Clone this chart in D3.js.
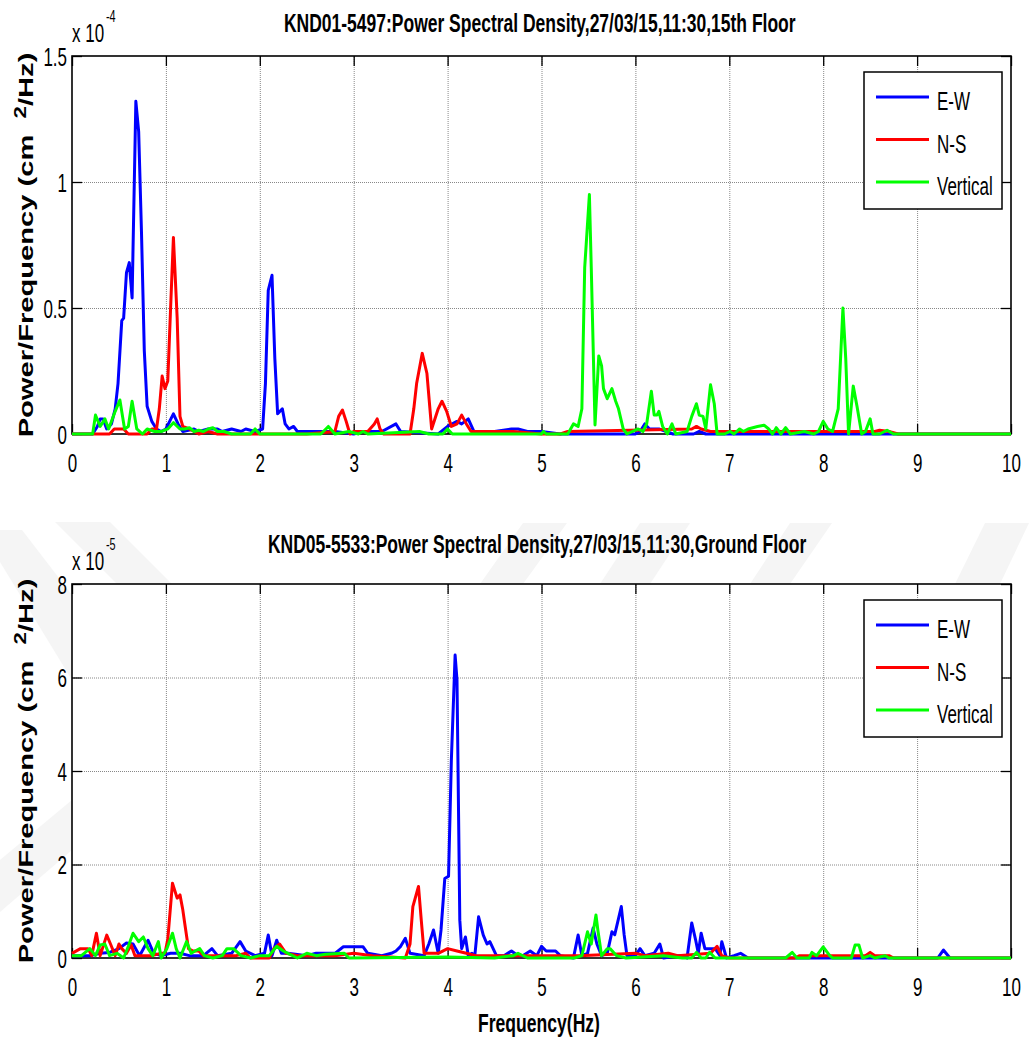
<!DOCTYPE html>
<html>
<head>
<meta charset="utf-8">
<script src="https://cdn.jsdelivr.net/npm/d3@7"></script>
<style>
  body { margin: 0; background: #fff; }
</style>
</head>
<body>
<svg id="chart" width="1029" height="1050"></svg>
<script>
// ---- data ----
var freqTicks = [0, 1, 2, 3, 4, 5, 6, 7, 8, 9, 10];
var topYTicks = [0, 0.5, 1, 1.5];
var botYTicks = [0, 2, 4, 6, 8];
var seriesNames = ["E-W", "N-S", "Vertical"];
var seriesColors = ["#0000ff", "#ff0000", "#00ff00"];

// 15th floor, values in 1e-4 cm^2/Hz, [freq, value]
var topEW = [[0,0],[0.22,0],[0.27,0.03],[0.3,0.06],[0.33,0.06],[0.37,0.02],[0.42,0.04],[0.46,0.1],[0.49,0.2],[0.53,0.45],[0.55,0.46],[0.58,0.64],[0.61,0.68],[0.64,0.54],[0.68,1.32],[0.71,1.2],[0.74,0.8],[0.77,0.33],[0.8,0.11],[0.85,0.05],[0.9,0.02],[0.95,0.01],[1.0,0.02],[1.04,0.05],[1.08,0.08],[1.13,0.04],[1.18,0.01],[1.3,0.02],[1.35,0.01],[1.45,0.02],[1.55,0.02],[1.6,0.01],[1.7,0.02],[1.8,0.01],[1.85,0.02],[1.95,0.01],[2.03,0.02],[2.06,0.2],[2.09,0.57],[2.13,0.63],[2.16,0.3],[2.19,0.08],[2.24,0.1],[2.27,0.04],[2.31,0.02],[2.36,0.03],[2.4,0.01],[2.6,0.01],[2.8,0.01],[3.0,0],[3.1,0.01],[3.3,0.01],[3.45,0.04],[3.5,0.01],[3.9,0],[4.0,0.03],[4.1,0.05],[4.15,0.04],[4.22,0.06],[4.28,0.01],[4.5,0.01],[4.68,0.02],[4.75,0.02],[4.85,0.01],[5.0,0.01],[5.2,0],[6.0,0],[6.05,0.01],[6.1,0.04],[6.15,0.02],[6.25,0.02],[6.4,0],[6.62,0],[6.68,0.01],[6.75,0],[10,0]];
var topNS = [[0,0],[0.4,0],[0.45,0.02],[0.55,0.02],[0.6,0],[0.8,0],[0.85,0.02],[0.9,0.02],[0.93,0.1],[0.96,0.23],[0.99,0.18],[1.02,0.21],[1.05,0.5],[1.08,0.78],[1.12,0.46],[1.15,0.07],[1.18,0.03],[1.25,0.02],[1.35,0],[1.45,0.01],[1.55,0],[2.5,0],[2.8,0.01],[2.84,0.07],[2.88,0.095],[2.92,0.05],[2.96,0],[3.0,0.01],[3.15,0.01],[3.22,0.04],[3.25,0.06],[3.28,0.02],[3.32,0],[3.6,0],[3.64,0.1],[3.67,0.2],[3.73,0.32],[3.78,0.24],[3.83,0.02],[3.9,0.1],[3.94,0.13],[3.99,0.09],[4.04,0.03],[4.1,0.04],[4.15,0.075],[4.2,0.04],[4.25,0.01],[4.7,0.01],[5.0,0],[5.2,0],[5.28,0.01],[6.6,0.02],[6.65,0.03],[6.7,0.02],[6.8,0.01],[8.55,0.01],[8.6,0.015],[8.7,0.01],[8.8,0],[10,0]];
var topV = [[0,0],[0.22,0],[0.25,0.075],[0.3,0.03],[0.35,0.06],[0.39,0.02],[0.46,0.09],[0.51,0.135],[0.56,0.02],[0.6,0.03],[0.64,0.13],[0.69,0.02],[0.75,0],[0.8,0.02],[0.88,0.01],[0.95,0.01],[1.02,0.02],[1.08,0.045],[1.15,0.02],[1.2,0.02],[1.25,0.025],[1.3,0.01],[1.35,0.015],[1.4,0.01],[1.45,0.02],[1.5,0.025],[1.55,0.01],[1.62,0.01],[1.7,0],[1.9,0],[1.95,0.02],[2.0,0],[2.65,0],[2.73,0.03],[2.8,0],[2.95,0.01],[3.05,0],[3.1,0.01],[3.15,0],[3.7,0.01],[3.8,0],[3.95,0],[4.0,0.02],[4.05,0],[5.0,0],[5.02,0.01],[5.05,0],[5.28,0],[5.34,0.04],[5.39,0.03],[5.43,0.1],[5.46,0.66],[5.51,0.95],[5.53,0.66],[5.57,0.036],[5.61,0.31],[5.64,0.27],[5.66,0.18],[5.7,0.14],[5.75,0.18],[5.79,0.13],[5.82,0.1],[5.87,0.02],[5.91,0],[5.97,0.01],[6.03,0.02],[6.08,0.01],[6.12,0.04],[6.17,0.17],[6.2,0.075],[6.23,0.075],[6.25,0.09],[6.29,0.03],[6.34,0],[6.39,0.04],[6.43,0],[6.55,0.01],[6.6,0.07],[6.65,0.12],[6.68,0.075],[6.72,0.07],[6.75,0.02],[6.8,0.195],[6.84,0.12],[6.87,0],[6.95,0],[7.01,0.01],[7.05,0],[7.11,0.02],[7.15,0.01],[7.2,0.02],[7.3,0.03],[7.37,0.035],[7.42,0.02],[7.46,0],[7.5,0.025],[7.55,0],[7.6,0.025],[7.65,0],[7.8,0.01],[7.9,0],[7.95,0.01],[8.0,0.05],[8.05,0.02],[8.1,0.01],[8.16,0.1],[8.21,0.5],[8.24,0.3],[8.27,0],[8.32,0.19],[8.36,0.11],[8.41,0],[8.45,0.01],[8.5,0.06],[8.53,0],[8.6,0],[8.68,0.015],[8.75,0],[10,0]];

// ground floor, values in 1e-5 cm^2/Hz
var botEW = [[0,0.05],[0.2,0.05],[0.3,0.1],[0.4,0.12],[0.5,0.2],[0.58,0.32],[0.65,0.3],[0.72,0.05],[0.81,0.38],[0.87,0.1],[0.95,0.05],[1.05,0.1],[1.15,0.1],[1.25,0.05],[1.4,0.05],[1.49,0.2],[1.55,0.05],[1.7,0.1],[1.79,0.35],[1.85,0.15],[1.95,0.05],[2.05,0.1],[2.09,0.49],[2.13,0.05],[2.18,0.38],[2.23,0.1],[2.3,0.1],[2.5,0.05],[2.6,0.1],[2.8,0.1],[2.89,0.24],[3.0,0.24],[3.1,0.24],[3.15,0.1],[3.3,0.05],[3.4,0.1],[3.45,0.15],[3.5,0.25],[3.55,0.42],[3.6,0.1],[3.75,0.05],[3.8,0.3],[3.85,0.6],[3.9,0.1],[3.93,0.6],[3.97,1.7],[4.01,1.75],[4.04,4.23],[4.08,6.48],[4.1,5.95],[4.13,0.81],[4.15,0.2],[4.19,0.45],[4.22,0.05],[4.26,0.1],[4.29,0.05],[4.33,0.88],[4.38,0.49],[4.42,0.3],[4.45,0.35],[4.52,0.05],[4.6,0.05],[4.68,0.15],[4.75,0.05],[4.8,0.05],[4.88,0.15],[4.95,0.05],[5.0,0.25],[5.05,0.15],[5.15,0.15],[5.2,0.05],[5.34,0],[5.39,0.49],[5.43,0.05],[5.49,0.1],[5.55,0.64],[5.59,0.3],[5.64,0.05],[5.7,0.1],[5.75,0.56],[5.78,0.5],[5.85,1.1],[5.88,0.5],[5.91,0.05],[6.0,0.05],[6.05,0.2],[6.1,0.05],[6.2,0.1],[6.26,0.3],[6.3,0],[6.45,0.05],[6.5,0.05],[6.55,0],[6.6,0.75],[6.64,0.4],[6.67,0.1],[6.7,0.53],[6.74,0.2],[6.85,0.2],[6.9,0.05],[6.92,0.35],[6.97,0],[7.05,0.05],[7.12,0.1],[7.2,0],[9.22,0],[9.28,0.17],[9.35,0],[10,0]];
var botNS = [[0,0.1],[0.09,0.2],[0.17,0.2],[0.21,0.05],[0.26,0.53],[0.3,0.05],[0.37,0.49],[0.41,0.3],[0.46,0.05],[0.5,0.3],[0.53,0.2],[0.58,0.1],[0.63,0.28],[0.67,0.05],[0.85,0.05],[0.95,0.1],[0.99,0.1],[1.02,0.4],[1.07,1.6],[1.12,1.28],[1.15,1.35],[1.18,1.03],[1.2,0.75],[1.24,0.2],[1.29,0.15],[1.35,0.15],[1.4,0.05],[1.75,0.05],[1.85,0.1],[1.9,0],[2.1,0],[2.15,0.2],[2.21,0.3],[2.28,0.1],[2.4,0.05],[2.8,0.05],[3.0,0.1],[3.2,0.05],[3.55,0],[3.6,0.3],[3.63,1.1],[3.69,1.53],[3.72,0.8],[3.75,0.1],[3.9,0.1],[4.0,0.2],[4.1,0.15],[4.2,0.1],[4.3,0.05],[5.4,0.05],[6.0,0.1],[6.1,0.05],[6.35,0.1],[6.45,0.05],[6.8,0.1],[6.87,0.25],[6.92,0.05],[7.0,0],[7.7,0],[7.75,0.05],[8.45,0.05],[8.5,0.12],[8.55,0.05],[8.7,0.05],[8.75,0],[10,0]];
var botV = [[0,0.05],[0.1,0.05],[0.19,0.2],[0.25,0.05],[0.3,0.28],[0.35,0.3],[0.4,0.05],[0.48,0.1],[0.55,0],[0.6,0.25],[0.65,0.53],[0.71,0.35],[0.76,0.45],[0.81,0.2],[0.86,0.05],[0.92,0.35],[0.95,0],[1.01,0.2],[1.07,0.53],[1.11,0.2],[1.15,0],[1.22,0.35],[1.27,0.1],[1.31,0.15],[1.36,0.2],[1.41,0.05],[1.5,0],[1.6,0.05],[1.65,0.2],[1.72,0.2],[1.8,0.05],[1.9,0],[2.0,0.05],[2.1,0.05],[2.18,0.25],[2.25,0.15],[2.3,0.1],[2.4,0],[2.5,0.1],[2.6,0.05],[2.7,0.08],[2.9,0.1],[2.95,0],[4.0,0.02],[4.5,0],[4.7,0.05],[4.75,0.1],[4.85,0],[5.35,0],[5.43,0.05],[5.49,0.56],[5.53,0.3],[5.58,0.92],[5.6,0.6],[5.64,0.05],[5.7,0.2],[5.73,0.2],[5.8,0.05],[5.9,0],[6.3,0.05],[6.5,0],[6.6,0],[6.65,0.12],[6.7,0],[6.75,0],[6.79,0.12],[6.85,0],[7.6,0],[7.67,0.12],[7.72,0],[7.85,0],[7.88,0.12],[7.93,0.05],[8.0,0.24],[8.07,0.05],[8.1,0],[8.3,0],[8.34,0.28],[8.38,0.28],[8.42,0],[8.5,0.05],[8.55,0],[8.66,0.05],[8.7,0],[10,0]];

var panels = [
  { title: "KND01-5497:Power Spectral Density,27/03/15,11:30,15th Floor",
    titleX: 284, titleY: 32, titleW: 512,
    top: 56, bottom: 434, yMax: 1.5, yTicks: topYTicks, expo: "-4",
    series: [topEW, topNS, topV] },
  { title: "KND05-5533:Power Spectral Density,27/03/15,11:30,Ground Floor",
    titleX: 268, titleY: 553, titleW: 539,
    top: 584, bottom: 958, yMax: 8, yTicks: botYTicks, expo: "-5",
    series: [botEW, botNS, botV] }
];

// ---- drawing ----
var svg = d3.select("#chart");
var FONT = "'Liberation Sans', Arial, sans-serif";
var SX = 0.68;           // matlab export looks horizontally squeezed
var left = 72, right = 1011;

var x = d3.scaleLinear().domain([0, 10]).range([left, right]);

// faint watermark behind the axes
var marks = [
  [[55,522],[110,522],[172,584],[117,584]],
  [[0,530],[22,530],[72,595],[72,680],[0,562]],
  [[72,800],[72,850],[0,912],[0,860]],
  [[523,523],[567,523],[523,584],[480,584]],
  [[640,523],[690,523],[650,584],[600,584]],
  [[790,523],[832,523],[790,584],[750,584]],
  [[985,523],[1029,523],[1000,584],[955,584]]
];
svg.selectAll(".wm").data(marks).enter().append("polygon")
  .attr("class", "wm")
  .attr("points", function (d) { return d.map(function (p) { return p.join(","); }).join(" "); })
  .attr("fill", "#f5f5f5");

function addText(parent, str, px, py, o) {
  var g = parent.append("g")
    .attr("transform", "translate(" + px + "," + py + ")" + (o.rotate ? " rotate(" + o.rotate + ")" : ""));
  var t = g.append("text")
    .attr("font-family", FONT)
    .attr("font-size", o.size)
    .attr("font-weight", o.bold ? "bold" : "normal")
    .attr("text-anchor", o.anchor || "start")
    .attr("fill", "#000")
    .text(str);
  var k = o.sx || SX;
  if (o.width) {
    k = o.width / t.node().getBBox().width;
  }
  t.attr("transform", "scale(" + k + ",1)");
  return t;
}

var line = d3.line()
  .x(function (d) { return x(d[0]); });

panels.forEach(function (p, pi) {
  var y = d3.scaleLinear().domain([0, p.yMax]).range([p.bottom, p.top]);
  var h = p.bottom - p.top;
  var g = svg.append("g").attr("class", "panel");

  g.append("rect")
    .attr("x", left).attr("y", p.top)
    .attr("width", right - left).attr("height", h)
    .attr("fill", "#fff");

  // dotted grid
  var gx = g.append("g").attr("transform", "translate(0," + p.bottom + ")")
    .call(d3.axisBottom(x).tickValues(freqTicks.slice(1, -1)).tickSize(-h).tickFormat(""));
  var gy = g.append("g").attr("transform", "translate(" + left + ",0)")
    .call(d3.axisLeft(y).tickValues(p.yTicks.slice(1, -1)).tickSize(-(right - left)).tickFormat(""));
  [gx, gy].forEach(function (a) {
    a.select(".domain").remove();
    a.selectAll(".tick line")
      .attr("stroke", "#888")
      .attr("stroke-width", 1)
      .attr("stroke-dasharray", "1,1");
  });

  // inward ticks on all four sides
  var axB = g.append("g").attr("transform", "translate(0," + p.bottom + ")")
    .call(d3.axisBottom(x).tickValues(freqTicks).tickSizeInner(-10).tickSizeOuter(0).tickFormat(d3.format("d")));
  var axT = g.append("g").attr("transform", "translate(0," + p.top + ")")
    .call(d3.axisTop(x).tickValues(freqTicks).tickSizeInner(-10).tickSizeOuter(0).tickFormat(""));
  var axL = g.append("g").attr("transform", "translate(" + left + ",0)")
    .call(d3.axisLeft(y).tickValues(p.yTicks).tickSizeInner(-10).tickSizeOuter(0).tickFormat(d3.format("~g")));
  var axR = g.append("g").attr("transform", "translate(" + right + ",0)")
    .call(d3.axisRight(y).tickValues(p.yTicks).tickSizeInner(-10).tickSizeOuter(0).tickFormat(""));
  [axB, axT, axL, axR].forEach(function (a) {
    a.select(".domain").remove();
    a.selectAll(".tick line").attr("stroke", "#000").attr("stroke-width", 1.3);
  });
  axB.selectAll(".tick text")
    .attr("font-family", FONT).attr("font-size", 25).attr("fill", "#000")
    .attr("y", 38).attr("dy", 0)
    .attr("transform", "scale(" + SX + ",1)");
  axL.selectAll(".tick text")
    .attr("font-family", FONT).attr("font-size", 25).attr("fill", "#000")
    .attr("x", -5 / SX).attr("y", 9).attr("dy", 0)
    .attr("transform", "scale(" + SX + ",1)");

  // axes box
  g.append("rect")
    .attr("x", left).attr("y", p.top)
    .attr("width", right - left).attr("height", h)
    .attr("fill", "none").attr("stroke", "#000").attr("stroke-width", 1.6);

  // spectra
  line.y(function (d) { return y(d[1]); });
  g.selectAll(".psd").data(p.series).enter().append("path")
    .attr("class", "psd")
    .attr("d", line)
    .attr("fill", "none")
    .attr("stroke", function (d, i) { return seriesColors[i]; })
    .attr("stroke-width", 3)
    .attr("stroke-linejoin", "round");

  // exponent label
  addText(g, "x 10", left, p.top - 14, { size: 25 });
  addText(g, p.expo, left + 34, p.top - 34, { size: 16 });

  // title
  addText(g, p.title, p.titleX, p.titleY, { size: 25, bold: true, width: p.titleW });

  // y label
  var yl = g.append("g")
    .attr("transform", "translate(33," + (p.top + p.bottom) / 2 + ") rotate(-90)");
  var yt = yl.append("text")
    .attr("font-family", FONT).attr("font-size", 21).attr("font-weight", "bold")
    .attr("text-anchor", "middle").attr("fill", "#000");
  yt.append("tspan").text("Power/Frequency (cm\u00a0\u00a0");
  yt.append("tspan").attr("font-size", 16).attr("dy", -7).text("2");
  yt.append("tspan").attr("dy", 7).text("/Hz)");
  yt.attr("transform", "scale(" + (385 / yt.node().getBBox().width) + ",1)");

  // legend
  var lg = g.append("g").attr("transform", "translate(864," + (p.top + 16) + ")");
  lg.append("rect")
    .attr("width", 138).attr("height", 137)
    .attr("fill", "#fff").attr("stroke", "#000").attr("stroke-width", 1.5);
  seriesNames.forEach(function (name, i) {
    var ly = 25 + i * 42.5;
    lg.append("line")
      .attr("x1", 12).attr("x2", 65).attr("y1", ly).attr("y2", ly)
      .attr("stroke", seriesColors[i]).attr("stroke-width", 3);
    addText(lg, name, 73, ly + 13, { size: 25 });
  });
});

// x label under the bottom panel
addText(svg, "Frequency(Hz)", 539, 1032, { size: 25, bold: true, anchor: "middle", width: 122 });
</script>
</body>
</html>
